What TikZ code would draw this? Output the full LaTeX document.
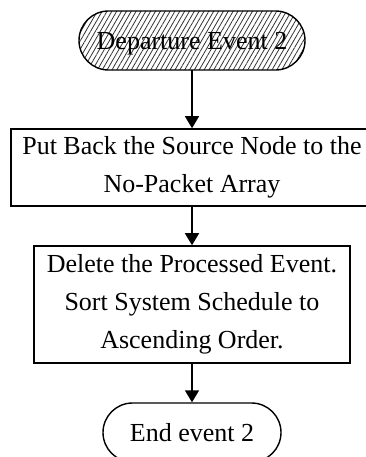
\documentclass[tikz,border=0pt]{standalone}
\usepackage{fontspec}
\setmainfont{Liberation Serif}
\usetikzlibrary{patterns.meta,arrows.meta}
\newcommand\diagfs{\fontsize{26}{38}\selectfont}
\tikzset{
  term/.style={draw, line width=1.4pt, rounded corners=29.5pt, minimum height=59pt,
    inner sep=0pt, font=\diagfs, text depth=0pt},
  proc/.style={draw, line width=1.6pt, inner sep=0pt, align=center, font=\diagfs},
  arr/.style={line width=1.6pt, -{Triangle[width=14pt,length=12pt]}}
}
\begin{document}
\begin{tikzpicture}[x=1pt,y=-1pt]
\useasboundingbox (0,0) rectangle (365,457);
\node[term, minimum width=226pt,
  pattern={Lines[angle=60,distance=4.2pt,line width=0.8pt]}, pattern color=black!80]
  (start) at (192,40.5) {Departure Event 2};
\node[proc, minimum width=362pt, minimum height=77pt] (b1) at (192,167.5)
  {Put Back the Source Node to the\\No-Packet Array};
\node[proc, minimum width=316pt, minimum height=117pt] (b2) at (192,304.5)
  {Delete the Processed Event.\\Sort System Schedule to\\Ascending Order.};
\node[term, minimum width=178pt] (end) at (192,432.5) {End event 2};
\draw[arr] (start) -- (b1);
\draw[arr] (b1) -- (b2);
\draw[arr] (b2) -- (end);
\end{tikzpicture}
\end{document}
